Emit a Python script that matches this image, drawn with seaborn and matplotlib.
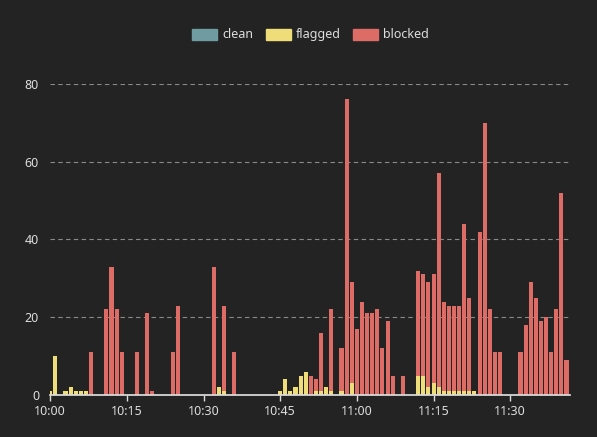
import numpy as np
import pandas as pd
import matplotlib
matplotlib.use("Agg")
import matplotlib.pyplot as plt
import seaborn as sns

# minutes after 10:00 -> total, flagged (blocked = total - flagged, clean is 0)
minutes = list(range(102))
total = [1, 10, 0, 1, 2, 1, 1, 1, 11, 0, 0, 22, 33, 22, 11, 0, 0, 11, 0, 21,
         1, 0, 0, 0, 11, 23, 0, 0, 0, 0, 0, 0, 33, 2, 23, 0, 11, 0, 0, 0,
         0, 0, 0, 0, 0, 1, 4, 1, 2, 5, 6, 5, 4, 16, 2, 22, 0, 12, 76, 29,
         17, 24, 21, 21, 22, 12, 19, 5, 0, 5, 0, 0, 32, 31, 29, 31, 57, 24, 23, 23,
         23, 44, 25, 1, 42, 70, 22, 11, 11, 0, 0, 0, 11, 18, 29, 25, 19, 20, 11, 22,
         52, 9]
flagged = [1, 10, 0, 1, 2, 1, 1, 1, 0, 0, 0, 0, 0, 0, 0, 0, 0, 0, 0, 0,
           0, 0, 0, 0, 0, 0, 0, 0, 0, 0, 0, 0, 0, 2, 1, 0, 0, 0, 0, 0,
           0, 0, 0, 0, 0, 1, 4, 1, 2, 5, 6, 0, 1, 1, 2, 1, 0, 1, 0, 3,
           0, 0, 0, 0, 0, 0, 0, 0, 0, 0, 0, 0, 5, 5, 2, 3, 2, 1, 1, 1,
           1, 1, 1, 1, 0, 0, 0, 0, 0, 0, 0, 0, 0, 0, 0, 0, 0, 0, 0, 0,
           0, 0]
clean = [0] * 102
blocked = [t - f for t, f in zip(total, flagged)]
tick_pos = [0, 15, 30, 45, 60, 75, 90]
tick_labels = ["10:00", "10:15", "10:30", "10:45", "11:00", "11:15", "11:30"]

c_clean, c_flag, c_block = "#6e9ca0", "#eedd78", "#dd6b66"
bg = "#232323"

sns.set_theme(style="dark")
plt.rcParams["font.family"] = ["Noto Sans", "DejaVu Sans"]

df = pd.DataFrame({"minute": minutes, "clean": clean, "flagged": flagged,
                   "blocked": blocked})
df["top"] = df["clean"] + df["flagged"] + df["blocked"]
df["mid"] = df["clean"] + df["flagged"]

fig = plt.figure(figsize=(5.97, 4.37), dpi=100, facecolor=bg)
ax = fig.add_axes([0.084, 0.096, 0.87, 0.712], facecolor=bg)

sns.barplot(data=df, x="minute", y="top", color=c_block, native_scale=True,
            width=0.8, saturation=1, ax=ax, linewidth=0)
sns.barplot(data=df, x="minute", y="mid", color=c_flag, native_scale=True,
            width=0.8, saturation=1, ax=ax, linewidth=0)
sns.barplot(data=df, x="minute", y="clean", color=c_clean, native_scale=True,
            width=0.8, saturation=1, ax=ax, linewidth=0)

ax.set_xlim(0, 101.6)
ax.set_ylim(0, 80)
ax.set_yticks([0, 20, 40, 60, 80])
ax.set_xticks(tick_pos)
ax.set_xticklabels(tick_labels)
ax.set_xlabel("")
ax.set_ylabel("")
ax.grid(False)
for y in [20, 40, 60, 80]:
    ax.axhline(y, color="#8a8a8a", lw=0.8, ls=(0, (4, 3)), zorder=0)
for s in ["top", "right", "left"]:
    ax.spines[s].set_visible(False)
ax.spines["bottom"].set_color("#dddddd")
ax.tick_params(axis="x", colors="#dddddd", labelsize=9, length=4, width=1,
               direction="out", bottom=True)
ax.tick_params(axis="y", colors="#dddddd", labelsize=9, length=0, pad=8)
for lab in ax.get_xticklabels() + ax.get_yticklabels():
    lab.set_color("#dddddd")
ax.set_clip_on(True)

from matplotlib.patches import FancyBboxPatch
handles = [FancyBboxPatch((0, 0), 1, 1, boxstyle="round,pad=0.1", color=c)
           for c in (c_clean, c_flag, c_block)]
leg = fig.legend(handles, ["clean", "flagged", "blocked"], loc="center",
                 bbox_to_anchor=(0.52, 0.92), ncol=3, frameon=False,
                 fontsize=9, handlelength=2.0, handleheight=1.0,
                 columnspacing=1.0, handletextpad=0.4)
for t in leg.get_texts():
    t.set_color("#dddddd")

fig.savefig("out.png", dpi=100, facecolor=bg)
